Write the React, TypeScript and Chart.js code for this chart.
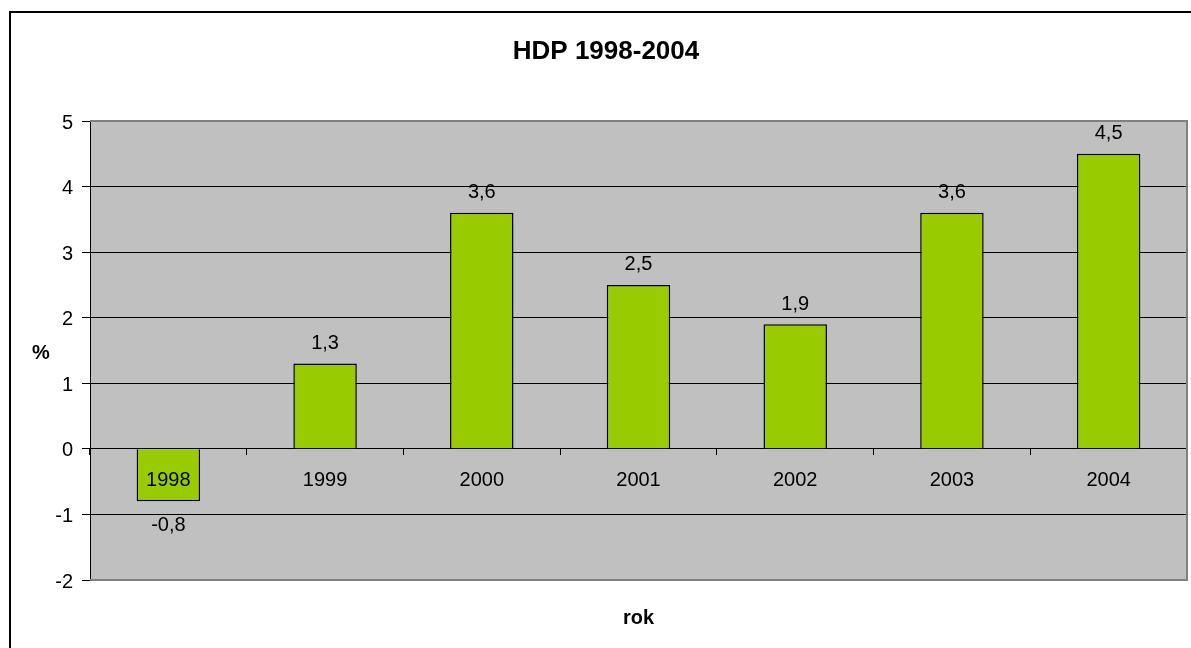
import React, { useEffect, useRef } from "react";
import { Chart, registerables } from "chart.js";

Chart.register(...registerables);

// Annual GDP growth (%)
const years = ["1998", "1999", "2000", "2001", "2002", "2003", "2004"];
const growth = [-0.8, 1.3, 3.6, 2.5, 1.9, 3.6, 4.5];
const yTicks = [-2, -1, 0, 1, 2, 3, 4, 5];

const chartTitle = "HDP 1998-2004";
const xTitle = "rok";
const yTitle = "%";

const FONT = "'Liberation Sans', Arial, sans-serif";
const W = 1191;
const H = 648;

const fmt = (v: number) => String(v).replace(".", ",");

// Frame, plot background, value labels and titles
const decorPlugin = {
  id: "decor",
  beforeDraw(chart: any) {
    const { ctx, chartArea: a, width, height } = chart;
    ctx.save();
    ctx.fillStyle = "#ffffff";
    ctx.fillRect(0, 0, width, height);
    ctx.strokeStyle = "#000000";
    ctx.lineWidth = 2;
    ctx.strokeRect(10, 12, width + 40, height + 40);
    ctx.fillStyle = "#C0C0C0";
    ctx.fillRect(a.left, a.top, a.right - a.left, a.bottom - a.top);
    ctx.restore();
  },
  afterDatasetsDraw(chart: any) {
    const { ctx } = chart;
    const meta = chart.getDatasetMeta(0);
    ctx.save();
    ctx.fillStyle = "#000000";
    ctx.font = `20px ${FONT}`;
    ctx.textAlign = "center";
    ctx.textBaseline = "alphabetic";
    meta.data.forEach((bar: any, i: number) => {
      const v = growth[i];
      const { x, y } = bar.getProps(["x", "y"], true);
      ctx.fillText(fmt(v), x, v >= 0 ? y - 14.5 : y + 30);
    });
    ctx.restore();
  },
  afterDraw(chart: any) {
    const { ctx, chartArea: a } = chart;
    ctx.save();
    // plot area outline (top, right, bottom)
    ctx.strokeStyle = "#808080";
    ctx.lineWidth = 2;
    ctx.beginPath();
    ctx.moveTo(a.left, a.top);
    ctx.lineTo(a.right, a.top);
    ctx.lineTo(a.right, a.bottom);
    ctx.lineTo(a.left, a.bottom);
    ctx.stroke();

    ctx.fillStyle = "#000000";
    ctx.textAlign = "center";
    ctx.textBaseline = "alphabetic";
    ctx.font = `bold 26px ${FONT}`;
    ctx.fillText(chartTitle, 606, 59);
    ctx.font = `bold 20px ${FONT}`;
    ctx.fillText(yTitle, 41, (a.top + a.bottom) / 2 + 8);
    ctx.fillText(xTitle, (a.left + a.right) / 2, 624);
    ctx.restore();
  },
};

export default function App() {
  const canvasRef = useRef<HTMLCanvasElement | null>(null);

  useEffect(() => {
    const canvas = canvasRef.current;
    if (!canvas) return;
    const chart = new Chart(canvas, {
      type: "bar",
      data: {
        labels: years,
        datasets: [
          {
            data: growth,
            backgroundColor: "#99CC00",
            borderColor: "#000000",
            borderWidth: 1.5,
            categoryPercentage: 1,
            barPercentage: 0.405,
          },
        ],
      },
      options: {
        responsive: false,
        animation: false,
        devicePixelRatio: 1,
        layout: { padding: { left: 10, top: 121, right: 4, bottom: 68 } },
        plugins: {
          legend: { display: false },
          tooltip: { enabled: false },
          title: { display: false },
        },
        scales: {
          x: {
            position: { y: 0 } as any,
            offset: true,
            grid: {
              drawOnChartArea: false,
              drawTicks: true,
              tickLength: 6,
              tickColor: "#000000",
              color: "#000000",
              offset: true,
            },
            border: { display: true, color: "#000000", width: 1 },
            ticks: {
              z: 1,
              color: "#000000",
              font: { family: FONT, size: 20 },
              padding: 14,
              maxRotation: 0,
              autoSkip: false,
            },
          },
          y: {
            min: -2,
            max: 5,
            afterBuildTicks: (s: any) => {
              s.ticks = yTicks.map((v) => ({ value: v }));
            },
            afterFit: (s: any) => {
              s.width = 80;
            },
            ticks: {
              color: "#000000",
              font: { family: FONT, size: 20 },
              padding: 9,
              labelOffset: 2,
              callback: (v: any) => String(v),
            },
            grid: {
              color: (c: any) =>
                c.tick && (c.tick.value === 5 || c.tick.value === -2)
                  ? "rgba(0,0,0,0)"
                  : "#000000",
              tickColor: "#000000",
              tickLength: 8,
              lineWidth: 1,
            },
            border: { display: true, color: "#000000", width: 1 },
          },
        },
      },
      plugins: [decorPlugin],
    });
    return () => chart.destroy();
  }, []);

  return (
    <div style={{ position: "absolute", left: 0, top: 0, width: W, height: H, background: "#fff" }}>
      <canvas ref={canvasRef} width={W} height={H} style={{ display: "block" }} />
    </div>
  );
}
